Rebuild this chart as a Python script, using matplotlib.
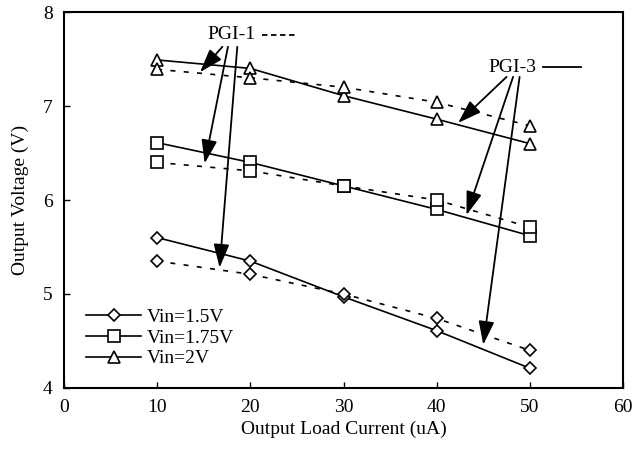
import matplotlib.pyplot as plt

plt.rcParams['font.family'] = ['Liberation Serif', 'DejaVu Serif']

# load current (uA)
current = [10, 20, 30, 40, 50]

# PGI-3 (solid) output voltage
pgi3_15 = [5.6, 5.35, 4.97, 4.61, 4.21]
pgi3_175 = [6.61, 6.4, 6.15, 5.9, 5.62]
pgi3_2 = [7.49, 7.4, 7.11, 6.86, 6.6]

# PGI-1 (dashed) output voltage
pgi1_15 = [5.35, 5.21, 5.0, 4.74, 4.4]
pgi1_175 = [6.4, 6.31, 6.15, 6.0, 5.71]
pgi1_2 = [7.39, 7.3, 7.2, 7.04, 6.79]

labels = ['Vin=1.5V', 'Vin=1.75V', 'Vin=2V']
markers = ['D', 's', '^']
msizes = [6.5, 8, 8.5]

fig = plt.figure(figsize=(6.36, 4.5), dpi=100)
ax = fig.add_axes([0.1006, 0.1378, 0.879, 0.8355])

dash = (0, (3, 5))
for solid, dashed, lab, m, ms in zip([pgi3_15, pgi3_175, pgi3_2],
                                     [pgi1_15, pgi1_175, pgi1_2],
                                     labels, markers, msizes):
    ax.plot(current, solid, color='black', lw=1.2, marker=m, ms=ms,
            mfc='white', mec='black', mew=1.2, label=lab)
    ax.plot(current, dashed, color='black', lw=1.2, linestyle=dash, marker=m,
            ms=ms, mfc='white', mec='black', mew=1.2)

# annotations
ax.text(18.0, 7.76, 'PGI-1', fontsize=14, ha='center', va='center')
ax.plot([21.2, 25.0], [7.76, 7.76], color='black', lw=1.3, linestyle=(0, (3, 2)))
ax.text(48.1, 7.41, 'PGI-3', fontsize=14, ha='center', va='center')
ax.plot([51.4, 55.5], [7.41, 7.41], color='black', lw=1.3)

arrow = dict(arrowstyle='-|>,head_length=0.9,head_width=0.3', color='black',
             lw=1.3, mutation_scale=16, shrinkA=0, shrinkB=0)
for start, end in [((17.0, 7.63), (14.6, 7.36)),
                   ((17.6, 7.63), (15.1, 6.39)),
                   ((18.6, 7.63), (16.7, 5.28)),
                   ((47.5, 7.31), (42.3, 6.82)),
                   ((48.2, 7.31), (43.2, 5.84)),
                   ((48.9, 7.31), (45.0, 4.46))]:
    ax.annotate('', xy=end, xytext=start, arrowprops=arrow)

ax.set_xlim(0, 60)
ax.set_ylim(4, 8)
ax.set_xticks(range(0, 61, 10))
ax.set_yticks(range(4, 9))
ax.tick_params(direction='in', length=4, labelsize=14, width=1)
ax.tick_params(axis='x', pad=8)
ax.tick_params(axis='y', pad=8)
for spine in ax.spines.values():
    spine.set_linewidth(1.5)

ax.set_xlabel('Output Load Current (uA)', fontsize=14, labelpad=3)
ax.set_ylabel('Output Voltage (V)', fontsize=14, labelpad=10)

ax.legend(loc='lower left', bbox_to_anchor=(0.04, 0.055), frameon=False,
          fontsize=14, handlelength=2.8, labelspacing=0.15, borderpad=0,
          borderaxespad=0, handletextpad=0.3)

fig.savefig('out.png', dpi=100)
